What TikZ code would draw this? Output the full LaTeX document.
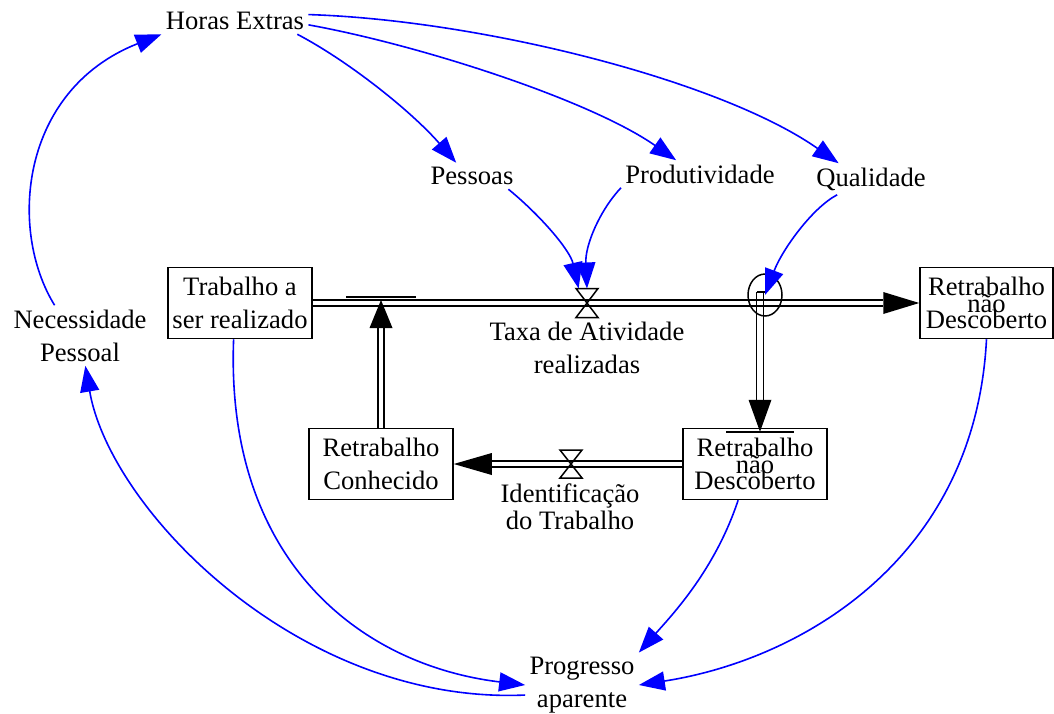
\documentclass[tikz,border=0pt]{standalone}
\usepackage{fontspec}
\setmainfont{Liberation Serif}
\usetikzlibrary{arrows.meta, shapes.geometric}

\begin{document}
\begin{tikzpicture}[x=0.5pt, y=-0.5pt, font=\fontsize{13.3}{16.5}\selectfont,
    stock/.style={draw, line width=0.75pt, minimum width=72pt, minimum height=35.5pt, inner sep=1pt, align=center},
    aux/.style={inner sep=2pt, align=center},
    valve/.style={minimum width=11pt, minimum height=14.5pt, inner sep=0pt, outer sep=0pt},
    pipe/.style={line width=0.75pt},
    link/.style={blue, line width=0.8pt, -{Triangle[length=13pt, width=9.5pt]}}]
  % estoques e fluxos, retrabalho
    \def\hw{1.5pt}
    \useasboundingbox (0,0) rectangle (1054,713);

    \node[stock] (tr) at (240,303) {Trabalho a\\ser realizado};
    \node[stock, minimum width=66.5pt] (rnd1) at (986.5,303) {Retrabalho\\[-8.25pt]não\\[-8.25pt]Descoberto};
    \node[stock] (rc) at (381,464) {Retrabalho\\Conhecido};
    \node[stock] (rnd2) at (755,464) {Retrabalho\\[-8.25pt]não\\[-8.25pt]Descoberto};

    \node[aux] (he) at (235,21) {Horas Extras};
    \node[aux] (pes) at (472,176) {Pessoas};
    \node[aux] (prod) at (700,174) {Produtividade};
    \node[aux] (qual) at (871,179) {Qualidade};
    \node[aux] (nec) at (80,335.5) {Necessidade\\Pessoal};
    \node[aux] (prog) at (582,685) {Progresso\\aparente};
    \node[aux] (ltx) at (587,348) {Taxa de Atividade\\realizadas};
    \node[aux] (lid) at (570,506.5) {Identificação\\[-3pt]do Trabalho};

    \node[valve] (vtx) at (587,303) {};
    \node[valve, minimum height=14pt] (vid) at (571,464) {};
    \node[draw, ellipse, pipe, minimum width=17pt, minimum height=21pt, inner sep=0pt] (ci) at (765,295) {};

    \coordinate[yshift=\hw] (jup) at (rc.north |- tr.east);
    \coordinate[xshift=-2.5pt] (jdn) at (ci.center);
    \coordinate[yshift=-2pt] (jbox) at (jdn |- rnd2.north);

    % fluxo principal
    \draw[pipe] ([yshift=\hw]tr.east) -- ([xshift=-18pt, yshift=\hw]rnd1.west);
    \draw[pipe] ([yshift=-\hw]tr.east) -- ([xshift=-18pt, yshift=-\hw]rnd1.west);
    \fill (rnd1.west) -- ++(-36,-11) -- ++(0,22) -- cycle;

    % retrabalho conhecido
    \draw[pipe] ([xshift=-\hw]rc.north) -- ([xshift=-\hw, yshift=-14pt]jup);
    \draw[pipe] ([xshift=\hw]rc.north) -- ([xshift=\hw, yshift=-14pt]jup);
    \fill (jup) -- ++(-11.5,28) -- ++(23,0) -- cycle;
    \draw[pipe] ([xshift=-17.5pt, yshift=\hw]jup) -- ++(70,0);

    % retrabalho nao descoberto
    \draw[pipe] ([xshift=-1.75pt, yshift=\hw]jdn) -- ([xshift=-1.75pt, yshift=16pt]jbox);
    \draw[pipe] ([xshift=1.75pt, yshift=\hw]jdn) -- ([xshift=1.75pt, yshift=16pt]jbox);
    \fill (jbox) -- ++(-11.5,-32) -- ++(23,0) -- cycle;
    \draw[pipe] ([xshift=-1.5pt, yshift=\hw]jdn) -- ++(10,0);
    \draw[pipe] ([xshift=-17pt]jbox) -- ++(68,0);

    % identificacao
    \draw[pipe] ([yshift=\hw]rnd2.west) -- ([xshift=19pt, yshift=\hw]rc.east);
    \draw[pipe] ([yshift=-\hw]rnd2.west) -- ([xshift=19pt, yshift=-\hw]rc.east);
    \fill (rc.east) -- ++(38,-11) -- ++(0,22) -- cycle;

    \draw[pipe] (vtx.north west) -- (vtx.north east) -- (vtx.south west) -- (vtx.south east) -- cycle;
    \draw[pipe] (vid.north west) -- (vid.north east) -- (vid.south west) -- (vid.south east) -- cycle;

    % ligacoes
    \draw[link] (nec.130) .. controls (8,230) and (20,90) .. (he.south west);
    \draw[link] (he.-12) .. controls (350,62) and (412,112) .. (pes.140);
    \draw[link] (he.-3) .. controls (420,45) and (590,100) .. (prod.150);
    \draw[link] (he.5) .. controls (480,20) and (720,80) .. (qual.154);
    \draw[link] (pes.-20) .. controls (540,215) and (570,250) .. (vtx.120);
    \draw[link] (prod.south west) .. controls (600,210) and (585,245) .. (vtx.north);
    \draw[link] (qual.205) .. controls (812,208) and (782,250) .. (ci.center);
    \draw[link] (tr.260) .. controls (225,560) and (360,665) .. (prog.west);
    \draw[link] (prog.190) .. controls (300,705) and (110,510) .. (nec.280);
    \draw[link] (rnd2.245) .. controls (715,570) and (672,615) .. (prog.north east);
    \draw[link] (rnd1.south) .. controls (975,560) and (800,660) .. (prog.east);

  \end{tikzpicture}
\end{document}
